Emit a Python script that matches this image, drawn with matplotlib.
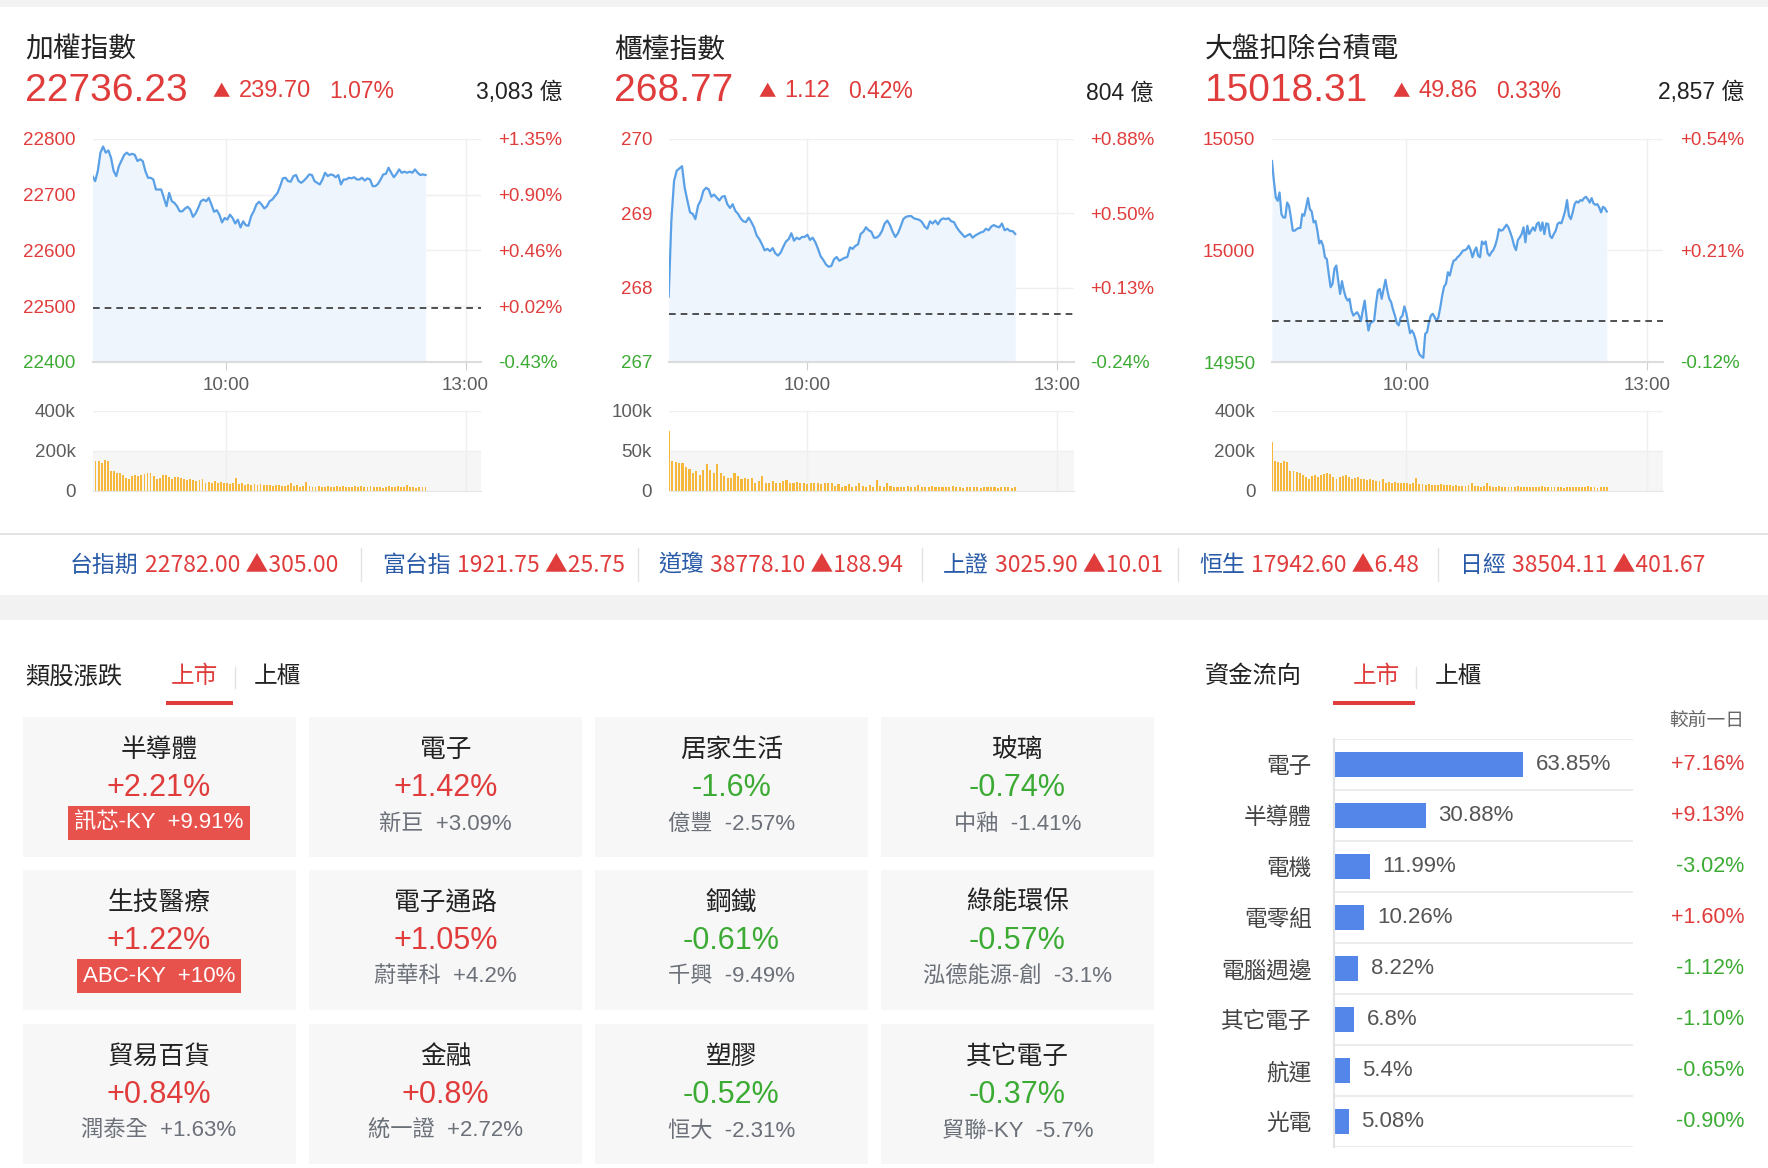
import numpy as np
import matplotlib.pyplot as plt
from matplotlib import transforms
from matplotlib.patches import Rectangle

plt.rcParams['font.family'] = ['Liberation Sans', 'Noto Sans CJK TC', 'DejaVu Sans']
NARROW = ['Liberation Sans Narrow', 'Noto Sans CJK TC', 'DejaVu Sans']

W, H = 1768, 1168
RED = '#e03c3c'
GREEN = '#3cab34'
BLUE_TXT = '#2a5ba8'
DARK = '#222222'
GRAY = '#5c5c5c'

# index headers
index_names = ['加權指數', '櫃檯指數', '大盤扣除台積電']
index_values = ['22736.23', '268.77', '15018.31']
index_changes = ['239.70', '1.12', '49.86']
index_pcts = ['1.07%', '0.42%', '0.33%']
index_turnover = ['3,083 億', '804 億', '2,857 億']
prev_close = [22496.53, 267.65, 14968.45]

y_ticks = [[22400, 22500, 22600, 22700, 22800], [267, 268, 269, 270], [14950, 15000, 15050]]
pct_labels = [['-0.43%', '+0.02%', '+0.46%', '+0.90%', '+1.35%'],
              ['-0.24%', '+0.13%', '+0.50%', '+0.88%'],
              ['-0.12%', '+0.21%', '+0.54%']]
vol_ticks = [[0, 200, 400], [0, 50, 100], [0, 200, 400]]
vol_labels = [['0', '200k', '400k'], ['0', '50k', '100k'], ['0', '200k', '400k']]

# minutes after 9:00
time_ticks = [60, 240]
time_labels = ['10:00', '13:00']
first_min, last_min = -40, 210
x_range = (-40, 252)

taiex = [22733, 22724, 22742, 22775, 22786, 22775, 22779, 22766, 22742, 22733, 22751, 22761, 22771, 22775,
         22771, 22773, 22771, 22760, 22763, 22760, 22742, 22730, 22730, 22727, 22709, 22709, 22709, 22694,
         22679, 22703, 22688, 22685, 22679, 22670, 22670, 22675, 22678, 22673, 22660, 22666, 22676, 22688,
         22691, 22688, 22694, 22682, 22669, 22672, 22664, 22650, 22658, 22655, 22664, 22658, 22648, 22655,
         22641, 22652, 22645, 22644, 22661, 22670, 22682, 22687, 22682, 22675, 22679, 22688, 22691, 22697,
         22703, 22715, 22729, 22730, 22724, 22723, 22733, 22735, 22724, 22721, 22725, 22730, 22736, 22735,
         22724, 22721, 22718, 22727, 22739, 22733, 22736, 22735, 22731, 22735, 22718, 22727, 22727, 22730,
         22729, 22731, 22727, 22727, 22730, 22725, 22729, 22727, 22715, 22715, 22719, 22727, 22736, 22737,
         22748, 22739, 22731, 22737, 22745, 22739, 22741, 22739, 22741, 22739, 22745, 22739, 22735, 22736,
         22735]

otc = [267.88, 268.9, 269.43, 269.57, 269.60, 269.63, 269.34, 269.17, 269.01, 268.99, 268.92, 269.10,
       269.17, 269.30, 269.34, 269.32, 269.22, 269.25, 269.21, 269.17, 269.22, 269.23, 269.12, 269.07,
       269.12, 269.03, 268.99, 268.93, 268.89, 268.88, 268.94, 268.88, 268.81, 268.70, 268.65, 268.58,
       268.50, 268.52, 268.49, 268.53, 268.46, 268.43, 268.47, 268.55, 268.62, 268.65, 268.73, 268.63,
       268.67, 268.65, 268.68, 268.68, 268.71, 268.64, 268.67, 268.61, 268.52, 268.42, 268.37, 268.31,
       268.28, 268.29, 268.38, 268.41, 268.36, 268.38, 268.40, 268.41, 268.54, 268.52, 268.56, 268.58,
       268.72, 268.75, 268.81, 268.77, 268.75, 268.67, 268.67, 268.70, 268.76, 268.86, 268.90, 268.84,
       268.75, 268.68, 268.73, 268.82, 268.92, 268.95, 268.96, 268.96, 268.93, 268.92, 268.91, 268.88,
       268.82, 268.79, 268.89, 268.86, 268.90, 268.85, 268.91, 268.93, 268.92, 268.93, 268.89, 268.88,
       268.81, 268.76, 268.72, 268.68, 268.70, 268.72, 268.67, 268.70, 268.72, 268.74, 268.75, 268.79,
       268.77, 268.82, 268.84, 268.82, 268.81, 268.86, 268.77, 268.79, 268.76, 268.76, 268.72]

ex_tsmc = [15040.0, 15031.1, 15023.7, 15022.2, 15025.9, 15016.2, 15014.7, 15014.7, 15021.4, 15019.9,
           15014.7, 15008.8, 15008.8, 15009.5, 15010.0, 15010.0, 15016.2, 15015.5, 15019.2, 15023.4,
           15018.5, 15017.4, 15012.5, 15013.2, 15008.8, 15003.1, 15004.3, 15002.1, 14996.9, 14996.1,
           14989.4, 14983.5, 14985.0, 14991.7, 14993.2, 14986.5, 14980.5, 14986.2, 14982.0, 14979.0,
           14977.5, 14978.3, 14973.1, 14970.8, 14971.6, 14972.3, 14970.8, 14968.3, 14973.1, 14977.5,
           14970.1, 14964.1, 14967.4, 14967.9, 14968.6, 14976.0, 14982.0, 14982.7, 14978.3, 14982.7,
           14986.8, 14982.0, 14978.3, 14976.8, 14973.4, 14970.8, 14967.4, 14966.4, 14969.8, 14970.8,
           14974.9, 14971.9, 14967.4, 14962.9, 14964.1, 14962.6, 14959.7, 14955.5, 14953.4, 14952.5,
           14951.9, 14962.6, 14963.4, 14967.9, 14970.8, 14971.6, 14970.1, 14968.3, 14970.1, 14974.6,
           14979.8, 14983.8, 14985.0, 14990.2, 14988.7, 14992.4, 14995.4, 14995.7, 14996.9, 14997.6,
           14998.7, 14999.9, 15000.1, 15000.6, 15002.1, 15000.1, 14996.9, 14999.6, 15001.3, 14997.6,
           14996.9, 15004.0, 15002.8, 15004.0, 14998.7, 14997.6, 14999.1, 15000.1, 15002.1, 15005.1,
           15009.5, 15008.8, 15009.1, 15010.3, 15011.5, 15010.3, 15008.0, 15005.5, 15002.1, 15000.1,
           15004.6, 15005.8, 15007.3, 15010.3, 15003.6, 15011.0, 15007.3, 15008.8, 15010.3, 15008.8,
           15011.8, 15012.5, 15008.8, 15012.5, 15007.3, 15012.1, 15011.8, 15006.5, 15005.5, 15007.3,
           15008.8, 15011.8, 15012.5, 15012.1, 15014.7, 15017.7, 15022.5, 15015.5, 15014.0, 15017.0,
           15020.7, 15021.9, 15021.4, 15022.5, 15022.2, 15023.4, 15024.0, 15022.9, 15021.4, 15023.4,
           15021.0, 15020.4, 15020.7, 15019.2, 15017.0, 15019.5, 15018.9, 15017.4]

# volume, thousands
taiex_vol = [243, 150, 148, 140, 155, 146, 98, 96, 90, 88, 80, 64, 56, 75, 80, 72, 80, 85, 88, 86, 72, 56,
             64, 76, 80, 70, 56, 66, 70, 62, 58, 55, 58, 55, 46, 52, 60, 38, 44, 40, 46, 38, 42, 36, 40, 34,
             38, 63, 32, 36, 30, 34, 28, 32, 30, 34, 26, 30, 28, 24, 28, 26, 22, 24, 28, 38, 22, 26, 20, 24,
             45, 22, 18, 20, 24, 18, 20, 22, 16, 20, 24, 18, 22, 16, 20, 18, 22, 16, 24, 20, 18, 22, 16, 20,
             18, 14, 18, 22, 16, 18, 22, 20, 16, 26, 18, 20, 14, 18, 16, 20]
otc_vol = [75, 37, 36, 35, 34, 29, 27, 22, 24, 20, 26, 33, 26, 22, 33, 22, 18, 16, 16, 22, 18, 15, 16, 14,
           16, 10, 12, 18, 10, 9, 12, 10, 9, 12, 13, 10, 9, 11, 9, 10, 8, 9, 9, 10, 8, 9, 9, 10, 6, 8, 5, 6,
           8, 5, 6, 9, 6, 5, 7, 5, 13, 6, 5, 9, 6, 4, 5, 5, 4, 6, 5, 5, 7, 4, 5, 4, 6, 5, 4, 5, 4, 4, 6, 4,
           5, 3, 4, 5, 4, 5, 3, 4, 4, 5, 4, 3, 4, 4, 5, 3, 4]
ex_tsmc_vol = [243, 146, 144, 140, 149, 142, 97, 97, 92, 86, 80, 66, 58, 74, 80, 70, 78, 84, 89, 84, 70,
               58, 66, 74, 78, 68, 58, 64, 68, 60, 56, 54, 56, 54, 46, 50, 58, 40, 44, 40, 44, 38, 40, 36,
               40, 34, 36, 63, 32, 34, 30, 32, 28, 30, 30, 32, 26, 28, 26, 24, 28, 24, 22, 24, 26, 36, 22,
               24, 20, 22, 40, 22, 18, 20, 22, 18, 20, 20, 16, 18, 22, 18, 20, 16, 18, 16, 20, 16, 22, 18,
               16, 20, 16, 18, 16, 14, 16, 20, 16, 18, 20, 18, 16, 22, 16, 18, 14, 16, 16, 18]

lines = [taiex, otc, ex_tsmc]
vols = [taiex_vol, otc_vol, ex_tsmc_vol]

# ticker strip
ticker_names = ['台指期', '富台指', '道瓊', '上證', '恒生', '日經']
ticker_prices = ['22782.00', '1921.75', '38778.10', '3025.90', '17942.60', '38504.11']
ticker_changes = ['305.00', '25.75', '188.94', '10.01', '6.48', '401.67']

# sector cards
sector_names = ['半導體', '電子', '居家生活', '玻璃', '生技醫療', '電子通路', '鋼鐵', '綠能環保',
                '貿易百貨', '金融', '塑膠', '其它電子']
sector_pct = [2.21, 1.42, -1.6, -0.74, 1.22, 1.05, -0.61, -0.57, 0.84, 0.8, -0.52, -0.37]
leader_names = ['訊芯-KY', '新巨', '億豐', '中釉', 'ABC-KY', '蔚華科', '千興', '泓德能源-創',
                '潤泰全', '統一證', '恒大', '貿聯-KY']
leader_pct = [9.91, 3.09, -2.57, -1.41, 10, 4.2, -9.49, -3.1, 1.63, 2.72, -2.31, -5.7]

# fund flow
flow_sectors = ['電子', '半導體', '電機', '電零組', '電腦週邊', '其它電子', '航運', '光電']
flow_share = [63.85, 30.88, 11.99, 10.26, 8.22, 6.8, 5.4, 5.08]
flow_change = [7.16, 9.13, -3.02, 1.60, -1.12, -1.10, -0.65, -0.90]

fig = plt.figure(figsize=(W / 100, H / 100), dpi=100)
ov = fig.add_axes([0, 0, 1, 1])
ov.set_xlim(0, W)
ov.set_ylim(H, 0)
ov.axis('off')


def px_axes(x0, y0, x1, y1):
    return fig.add_axes([x0 / W, 1 - y1 / H, (x1 - x0) / W, (y1 - y0) / H])


# page background bits
ov.add_patch(Rectangle((0, 0), W, 7, fc='#f3f3f3', ec='none'))
ov.add_patch(Rectangle((0, 533), W, 1.5, fc='#e4e4e4', ec='none'))
ov.add_patch(Rectangle((0, 595), W, 25, fc='#f2f2f2', ec='none'))

# ---- three index charts ----
head_x = [25, 614, 1205]
turn_x = [562, 1153, 1744]
chart_x = [(92.5, 481.5), (668.7, 1073.5), (1272, 1663)]

for k in range(3):
    ov.text(head_x[k], 51, index_names[k], fontsize=20, color=DARK, va='center')
    val = ov.text(head_x[k], 91, index_values[k], fontsize=28, color=RED, va='center')
    tri = ov.annotate('▲', xy=(1, 0.5), xycoords=val, xytext=(25, -1), textcoords='offset pixels',
                      fontsize=12.5, color=RED, va='center', family=['Noto Sans CJK TC'])
    chg = ov.annotate(index_changes[k], xy=(1, 0.5), xycoords=tri, xytext=(9, 1),
                      textcoords='offset pixels', fontsize=17, color=RED, va='center')
    ov.annotate(index_pcts[k], xy=(1, 0.5), xycoords=chg, xytext=(18, 0),
                textcoords='offset pixels', fontsize=16.5, color=RED, va='center')
    ov.text(turn_x[k], 93, index_turnover[k], fontsize=16.5, color=DARK, va='center', ha='right')

    x0, x1 = chart_x[k]
    ax = px_axes(x0, 138.7, x1, 362)
    t = np.linspace(first_min, last_min, len(lines[k]))
    ymin, ymax = y_ticks[k][0], y_ticks[k][-1]
    ax.fill_between(t, lines[k], ymin, color='#eef5fc', lw=0)
    ax.plot(t, lines[k], color='#5aa0e6', lw=1.6)
    ax.axhline(prev_close[k], color='#333333', lw=1.2, ls=(0, (4, 3)))
    ax.set_xlim(*x_range)
    ax.set_ylim(ymin, ymax)
    ax.set_xticks(time_ticks, time_labels)
    ax.set_yticks(y_ticks[k], [str(v) for v in y_ticks[k]])
    ax.grid(True, color='#efefef', lw=1)
    ax.set_axisbelow(True)
    for s in ['top', 'right', 'left']:
        ax.spines[s].set_visible(False)
    ax.spines['bottom'].set_color('#dcdcdc')
    ax.spines['bottom'].set_linewidth(1.5)
    ax.tick_params(axis='x', length=6, color='#d0d0d0', labelcolor=GRAY, labelsize=13.5, pad=5)
    ax.tick_params(axis='y', length=0, labelsize=13.5, pad=12)
    for lbl, v in zip(ax.get_yticklabels(), y_ticks[k]):
        lbl.set_color(RED if v > prev_close[k] else GREEN)
    ax2 = ax.twinx()
    ax2.set_ylim(ymin, ymax)
    ax2.set_yticks(y_ticks[k], pct_labels[k])
    for s in ax2.spines.values():
        s.set_visible(False)
    ax2.tick_params(axis='y', length=0, labelsize=13.5, pad=12)
    for lbl, s in zip(ax2.get_yticklabels(), pct_labels[k]):
        lbl.set_color(GREEN if s.startswith('-') else RED)

    vx = px_axes(x0, 410.5, x1, 490.5)
    tv = np.linspace(first_min, last_min, len(vols[k]))
    bw = (last_min - first_min) / len(vols[k]) * 0.62
    vx.axhspan(0, vol_ticks[k][1], color='#f6f6f6', lw=0, zorder=0)
    vx.bar(tv, vols[k], width=bw, color='#f5b83d', zorder=2)
    vx.set_xlim(*x_range)
    vx.set_ylim(0, vol_ticks[k][-1])
    vx.set_xticks(time_ticks, ['', ''])
    vx.set_yticks(vol_ticks[k], vol_labels[k])
    vx.grid(True, color='#efefef', lw=1)
    vx.set_axisbelow(True)
    for s in ['top', 'right', 'left']:
        vx.spines[s].set_visible(False)
    vx.spines['bottom'].set_color('#e6e6e6')
    vx.tick_params(axis='x', length=0)
    vx.tick_params(axis='y', length=0, labelsize=13.5, labelcolor=GRAY, pad=12)

# ---- ticker strip ----
tick_x = [70, 382, 658, 943, 1199, 1460]
sep_x = [361, 638, 922, 1178, 1438]
for sx in sep_x:
    ov.plot([sx, sx], [548, 581], color='#e2e2e2', lw=1)
for i in range(len(ticker_names)):
    nm = ov.text(tick_x[i], 565, ticker_names[i], fontsize=16.5, color=BLUE_TXT, va='center',
                 family=['Noto Sans CJK TC'])
    ov.annotate(f'{ticker_prices[i]} ▲{ticker_changes[i]}', xy=(1, 0.5), xycoords=nm, xytext=(6, 0),
                textcoords='offset pixels', fontsize=16.5, color=RED, va='center', family=NARROW)

# ---- sector section ----
ov.text(25, 677, '類股漲跌', fontsize=17.5, color=DARK, va='center')
ov.text(171, 677, '上市', fontsize=17, color=RED, va='center')
ov.add_patch(Rectangle((166, 701), 67, 4, fc=RED, ec='none'))
ov.plot([234.5, 234.5], [667, 688], color='#e2e2e2', lw=1)
ov.text(254, 677, '上櫃', fontsize=17, color=DARK, va='center')

col_x = [22.5, 309, 595, 881]
row_y = [717, 870, 1024]
cw, ch = 273, 140
for i in range(len(sector_names)):
    x0 = col_x[i % 4]
    y0 = row_y[i // 4]
    ov.add_patch(Rectangle((x0, y0), cw, ch, fc='#f7f7f7', ec='none'))
    cx = x0 + cw / 2
    ov.text(cx, y0 + 33, sector_names[i], fontsize=18.5, color=DARK, ha='center', va='center')
    ov.text(cx, y0 + 71, f'{sector_pct[i]:+g}%', fontsize=22, ha='center', va='center',
            color=RED if sector_pct[i] > 0 else GREEN)
    sub = f'{leader_names[i]}  {leader_pct[i]:+g}%'
    if leader_pct[i] >= 9.5:
        ov.text(cx, y0 + 106, sub, fontsize=16, color='white', ha='center', va='center',
                bbox=dict(boxstyle='square,pad=0.28', fc='#e8524d', ec='none'))
    else:
        ov.text(cx, y0 + 107, sub, fontsize=16, color='#6b7079', ha='center', va='center')

# ---- fund flow ----
ov.text(1205, 677, '資金流向', fontsize=17.5, color=DARK, va='center')
ov.text(1353, 677, '上市', fontsize=17, color=RED, va='center')
ov.add_patch(Rectangle((1333, 701), 82, 4, fc=RED, ec='none'))
ov.plot([1416, 1416], [667, 688], color='#e2e2e2', lw=1)
ov.text(1435, 677, '上櫃', fontsize=17, color=DARK, va='center')
ov.text(1744, 721, '較前一日', fontsize=13.5, color='#666666', va='center', ha='right')

fx = px_axes(1334, 738.6, 1633, 1146.8)
n = len(flow_sectors)
yy = np.arange(n)
fx.barh(yy, flow_share, height=0.49, color='#5486ea')
fx.set_xlim(0, 100.8)
fx.set_ylim(n - 0.5, -0.5)
for b in np.arange(-0.5, n):
    fx.axhline(b, color='#ececec', lw=1.5)
for s in ['top', 'right', 'bottom']:
    fx.spines[s].set_visible(False)
fx.spines['left'].set_color('#e3e3e3')
fx.spines['left'].set_linewidth(1.5)
fx.set_xticks([])
fx.set_yticks(yy, flow_sectors)
fx.tick_params(axis='y', length=0, labelsize=16.3, labelcolor='#444444', pad=16)
for i, v in enumerate(flow_share):
    fx.text(v + 4.2, i, f'{v:g}%', va='center', fontsize=16, color='#555555')
blend = transforms.blended_transform_factory(ov.transData, fx.transData)
for i, v in enumerate(flow_change):
    fx.text(1744, i, f'{v:+.2f}%', transform=blend, ha='right', va='center', fontsize=15.5,
            color=RED if v > 0 else GREEN, clip_on=False)

fig.savefig('out.png', dpi=100)
